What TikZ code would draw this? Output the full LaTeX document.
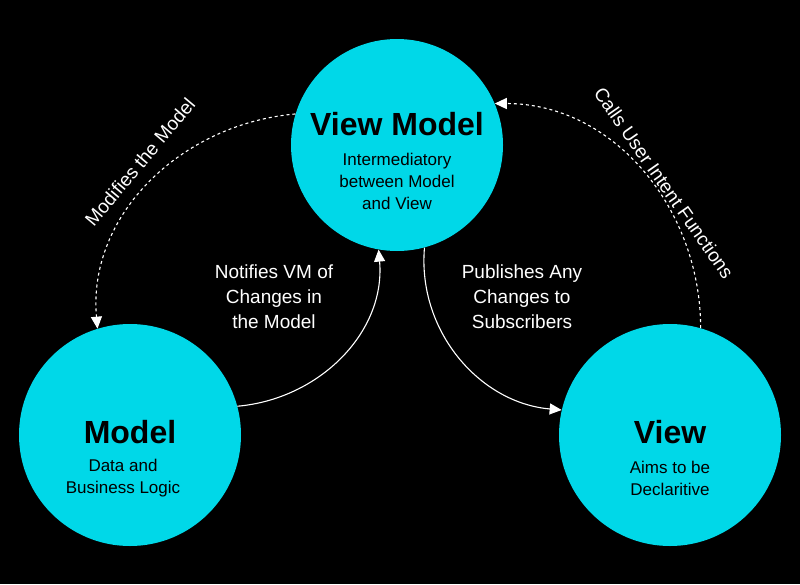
\documentclass[tikz,border=0pt]{standalone}
\usepackage{fontspec}
\setmainfont{Liberation Sans}
\usetikzlibrary{arrows.meta}
\definecolor{cyanfill}{HTML}{00D8E8}
\tikzset{
  part/.style={circle,fill=cyanfill,minimum size=#1,inner sep=0pt},
  title/.style={font=\fontsize{32}{34}\selectfont\bfseries,text=black},
  sub/.style={font=\fontsize{17}{22}\selectfont,text=black,align=center},
  lbl/.style={font=\fontsize{19}{25}\selectfont,text=white,align=center},
  flow/.style={white,line width=1.1pt,-{Triangle[open,fill=white,length=12pt,width=11pt]}},
  flowdash/.style={flow,dashed}
}
\begin{document}
\begin{tikzpicture}[x=1pt,y=-1pt]
  \fill[black] (0,0) rectangle (800,584);
  \useasboundingbox (0,0) rectangle (800,584);
  % the three parts
  \node[part=212pt] (vm) at (397,145) {};
  \node[part=222pt] (model) at (130,435) {};
  \node[part=222pt] (view) at (670,435) {};
  \node[title] at (397,124) {View Model};
  \node[sub] at (397,181) {Intermediatory\\between Model\\and View};
  \node[title] at (130,432) {Model};
  \node[sub] at (123,478) {Data and\\Business Logic};
  \node[title] at (670,432) {View};
  \node[sub] at (670,478) {Aims to be\\Declaritive};
  % connectors
  \draw[flowdash] (vm.163) to[out=185,in=95] (model.107);
  \draw[flow] (model.15) to[out=5,in=-85] (vm.260);
  \draw[flow] (vm.285) to[out=-95,in=175] (view.167);
  \draw[flowdash] (view.74) to[out=90,in=0] (vm.23);
  % labels
  \node[lbl,rotate=50] at (140,162) {Modifies the Model};
  \node[lbl,rotate=-55] at (664,183) {Calls User Intent Functions};
  \node[lbl] at (274,297) {Notifies VM of\\Changes in\\the Model};
  \node[lbl] at (522,297) {Publishes Any\\Changes to\\Subscribers};
\end{tikzpicture}
\end{document}
